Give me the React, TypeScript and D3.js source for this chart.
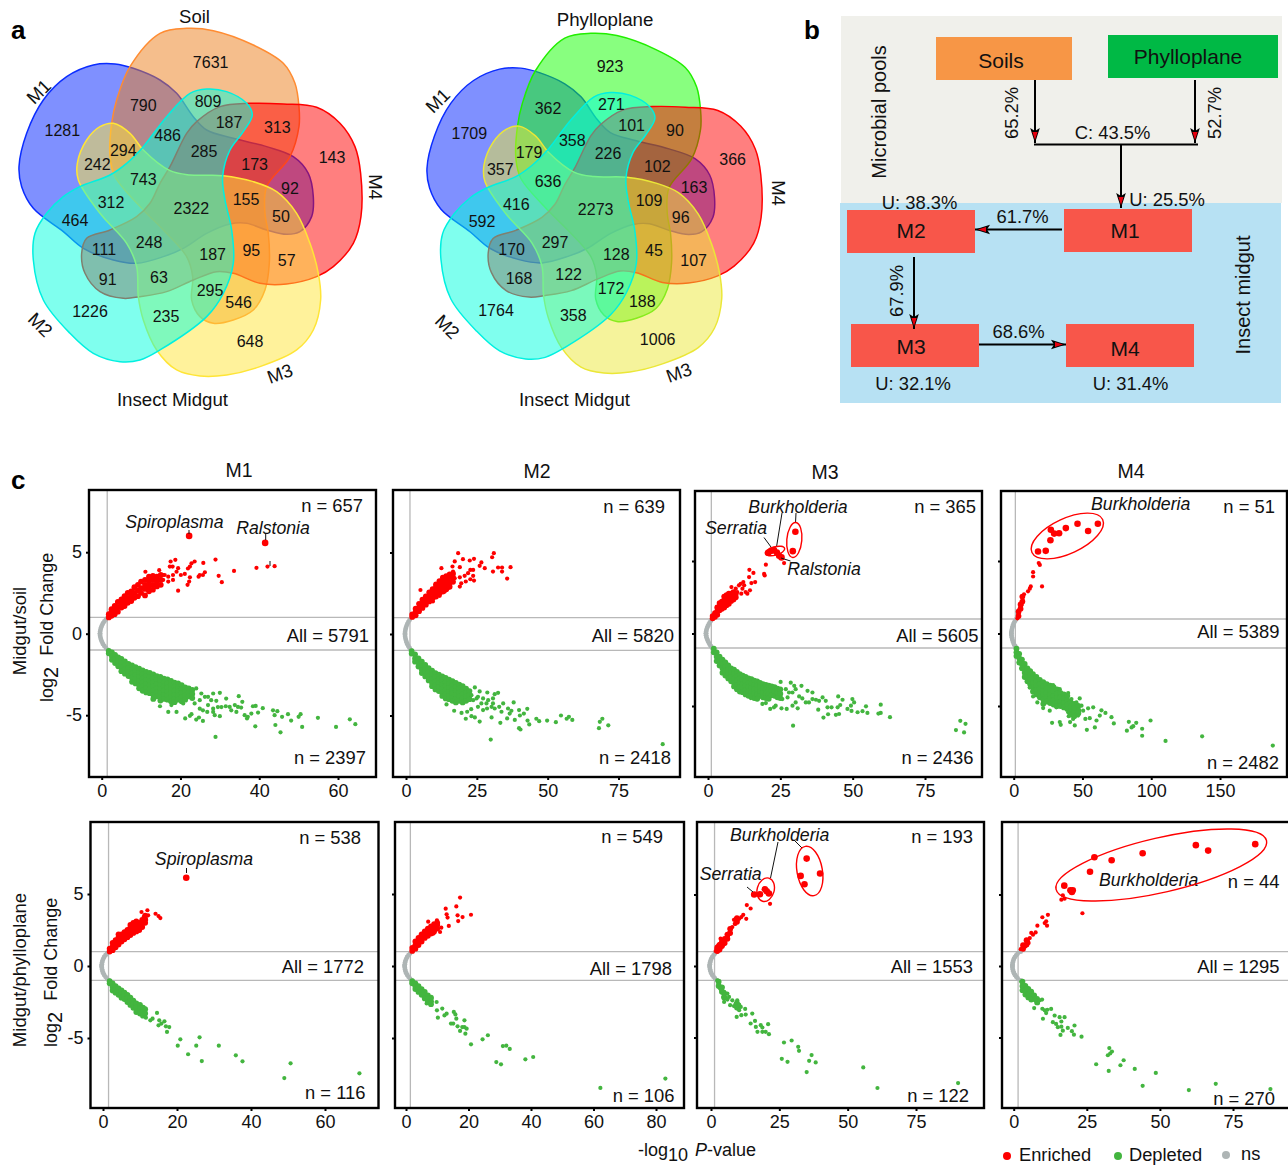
import React, { useEffect, useRef } from 'react';
import * as d3 from 'd3';

const FONT = '"Liberation Sans", Arial, sans-serif';

// venn region counts, same region order in both diagrams
const soilCounts = [7631, 1281, 790, 809, 187, 313, 143, 486, 294, 242, 285, 173, 92, 743, 312, 2322, 155, 50, 464, 111, 248, 187, 95, 57, 91, 63, 295, 546, 1226, 235, 648];
const phylloCounts = [923, 1709, 362, 271, 101, 90, 366, 358, 179, 357, 226, 102, 163, 636, 416, 2273, 109, 96, 592, 170, 297, 128, 45, 107, 168, 122, 172, 188, 1764, 358, 1006];

// volcano rows: [-log10 P, log2 FC, log2 FC ...], rows with several values sit in the dense cloud
const m1SoilUp = [[1.8,1,1.2],[2.5,1.1,1.35,1.5],[3.3,1.2,1.45,1.7],[4.1,1.35,1.65,1.95],[5,1.6,1.85,2.1],[5.8,1.7,2,2.3],[6.6,1.9,2.2,2.5],[7.5,2,2.3,2.6],[8.3,2.2,2.5,2.85],[9.2,2.3,2.65,3],[10,2.5,2.8,3.2],[11,2.35,2.75,3,3.3],[12,2.6,2.9,3.2,3.5],[13,2.7,3,3.3,3.55],[14,2.9,3.2,3.5],[15,3,3.3,3.6],
  [43.9,4.14],[42.1,4.12],[39.3,4.04],[33.6,3.85],[28.9,4.55],[25.8,4.34],[23.6,4.43],[22.8,4.32],[22.4,4.12],[21.9,4],[26.2,3.77],[25.7,3.6],[24.6,3.5],[24.9,3.6],[29.7,3.55],[30.5,3.16],[22.4,3.46],[22.2,3.2],[21.8,3],[19.4,2.64],[21.1,3.67],[20.1,3.6],[18.7,4.53],[17.5,4.43],[17.3,4.12],[18,4.12],[19.4,4.02],[19,3.8],[18.1,3.6],[16.9,3.5],[16,3.6],[15.6,3.6],[14.6,3.9],[11.1,3.8],[16.9,3.2],[18.1,3.3],[15.6,3.3]];
const m1SoilDown = [[1.8,-1.05,-1.2],[2.6,-1.15,-1.4,-1.6],[3.4,-1.3,-1.55,-1.8],[4.2,-1.45,-1.7,-2],[5,-1.55,-1.8,-2.05,-2.3],[5.9,-1.7,-1.95,-2.2,-2.45],[6.8,-1.85,-2.1,-2.35,-2.6],[7.7,-1.95,-2.2,-2.45,-2.7,-2.95],[8.6,-2.05,-2.3,-2.55,-2.8,-3.05],[9.5,-2.15,-2.4,-2.65,-2.9,-3.15,-3.35],[10.4,-2.25,-2.5,-2.75,-3,-3.25,-3.5],[11.3,-2.35,-2.6,-2.85,-3.1,-3.35,-3.6],[12.2,-2.4,-2.65,-2.9,-3.15,-3.4,-3.65],[13.1,-2.5,-2.75,-3,-3.25,-3.5,-3.75,-4],[14,-2.6,-2.85,-3.1,-3.35,-3.6,-3.85],[14.9,-2.65,-2.9,-3.15,-3.4,-3.65,-3.9,-4.1],[15.8,-2.75,-3,-3.25,-3.5,-3.75,-4],[16.7,-2.8,-3.05,-3.3,-3.55,-3.8,-4.05],[17.6,-2.9,-3.15,-3.4,-3.65,-3.9,-4.15],[18.5,-3,-3.25,-3.5,-3.75,-4,-4.2],[19.4,-3.05,-3.3,-3.55,-3.8,-4.05],[20.3,-3.15,-3.4,-3.65,-3.9,-4.15],[21.2,-3.3,-3.55,-3.8,-4.05],[22.1,-3.35,-3.6,-3.85],[23,-3.45,-3.7,-3.95],
  [28.9,-6.33],[64.4,-5.55],[63,-5.25],[59.5,-5.72],[54.9,-5.16],[50.9,-5.72],[50.5,-4.94],[50,-5.1],[48.1,-5.33],[47.3,-4.94],[45.8,-5.1],[45.4,-6.05],[44.1,-5.6],[44.6,-4.75],[43.5,-4.7],[43.9,-5],[40.9,-4.57],[39.1,-4.43],[38.4,-4.45],[39,-5.68],[39.7,-4.84],[38,-4.9],[37.1,-5.1],[36.3,-5],[36.9,-5.2],[35.7,-4.18],[34.8,-3.83],[33.8,-4.38],[34.6,-4.49],[35.4,-4.53],[34.2,-4.8],[32.5,-4.49],[32.9,-4.7],[31.6,-3.98],[31.5,-4.45],[30.4,-4.5],[30,-5.06],[28.7,-5],[28.3,-4.8],[27,-4.38],[27.8,-4.08],[28.3,-3.67],[30,-3.63],[29.1,-4.12],[25.7,-5.35],[24.7,-5.14],[24,-5.27],[22.8,-4.94],[22.4,-5.04],[21.2,-5.2],[19,-4.8],[16.9,-4.8],[14.8,-4.45],[17.7,-4.38],[20.7,-4.28],[24,-3.36],[25.3,-3.67],[24.9,-4.08],[26.2,-3.87],[27,-3.87],[23.6,-4.28],[24.9,-4.6],[25.7,-4.7],[26.8,-4.8],[28.3,-4.6],[29.5,-4.5]];
const m1SoilNs = [-0.43,-0.4,-0.3,-0.15,0.05,0.3,0.66,1.07,1.52];
const m1SoilBig = [[22.2,6],[41.5,5.57]];

const m2SoilUp = [[2.2,1.05,1.2],[3.4,1.15,1.35,1.55],[4.6,1.4,1.6,1.85],[5.8,1.6,1.85,2.1],[7,1.8,2.05,2.3],[8.2,2,2.25,2.55],[9.4,2.2,2.5,2.75],[10.6,2.3,2.6,2.9,3.05],[11.8,2.5,2.8,3.05,3.25],[13,2.6,2.9,3.2,3.45],[14.2,2.75,3,3.3,3.55],[15.4,2.9,3.2,3.5,3.65],[16.6,3.2,3.45,3.7],
  [18.4,4.96],[17.2,4.45],[20.1,4.59],[22.5,4.51],[24,4.61],[26.6,4.39],[26,4.18],[27.8,4.04],[31,4.96],[30.4,4.71],[32.5,4.08],[33.9,4.08],[36.9,4.1],[33.9,3.83],[30.7,3.83],[35.7,3.4],[23.7,3.93],[22.7,3.93],[21.9,3.73],[23.7,3.57],[22.7,3.36],[24,3.28],[20.7,3.57],[21.1,3.22],[19,3.48],[19.5,3.11],[19,2.91],[16.4,4.14],[16.6,3.83],[19,4.1],[12.5,4.04],[5.1,2.7],[9.5,2],[11.9,2.34],[13.7,2.6],[14.8,2.8],[17.2,3.42],[15.7,3.11]];
const m2SoilDown = [[2,-1.05,-1.2],[3.2,-1.25,-1.5,-1.7],[4.4,-1.5,-1.75,-2],[5.6,-1.7,-1.95,-2.2,-2.4],[6.8,-1.9,-2.15,-2.4,-2.6],[8,-2.1,-2.35,-2.6,-2.85],[9.2,-2.25,-2.5,-2.75,-3,-3.2],[10.4,-2.4,-2.65,-2.9,-3.15,-3.4],[11.6,-2.5,-2.75,-3,-3.25,-3.5],[12.8,-2.6,-2.85,-3.1,-3.35,-3.6,-3.8],[14,-2.7,-2.95,-3.2,-3.45,-3.7,-3.95],[15.2,-2.8,-3.05,-3.3,-3.55,-3.8,-4],[16.4,-2.9,-3.15,-3.4,-3.65,-3.9,-4.1],[17.6,-3,-3.25,-3.5,-3.75,-4,-4.2],[18.8,-3.1,-3.35,-3.6,-3.85,-4.1],[20,-3.2,-3.45,-3.7,-3.95,-4.2],[21.2,-3.35,-3.6,-3.85,-4.1],[22.4,-3.5,-3.75,-4],
  [29.9,-6.48],[90.6,-6.76],[71.4,-5.6],[69.3,-5.2],[68.4,-5.39],[68.1,-5.78],[58.7,-5.27],[57.5,-5.08],[56.7,-5.2],[54.7,-5],[52.9,-5.41],[49.8,-5.31],[47,-5.35],[46,-5.2],[43.5,-5.55],[42.9,-5.31],[42.8,-4.59],[41.6,-4.88],[40.2,-5],[39.9,-5.78],[40.4,-5.86],[38.4,-5.27],[39.9,-4.67],[38,-4.2],[37.2,-4.71],[36,-4.57],[36.6,-4.88],[35.7,-5.18],[33.3,-5.45],[34.3,-4.26],[32.9,-4.47],[33.7,-4.77],[31.3,-4.57],[30.2,-5.12],[30.2,-4.47],[26,-5.37],[24.3,-5.12],[23.1,-5.04],[21.1,-5.2],[19.6,-4.84],[17,-4.71],[23,-4.61],[21.6,-4.77],[14.3,-4.32],[25.4,-4.47],[27.2,-4.67],[28.6,-4.57],[30.7,-4.26],[32.5,-3.61],[31.3,-3.69],[28.7,-3.59],[26,-3.52],[24.3,-3.28],[30.7,-3.95],[29,-4.06],[27.2,-3.95],[24.9,-3.95],[23.7,-4.06],[26.6,-4.26],[28.4,-4.26],[23.1,-3.75],[25.4,-3.85]];
const m2SoilNs = [-0.35,-0.32,-0.21,-0.04,0.21,0.49,0.85,1.31,1.87];

const m3SoilUp = [[1.6,1.05,1.2],[2.4,1.15,1.4],[3.2,1.3,1.55,1.8],[4,1.6,1.85,2.1],[4.8,1.7,1.95,2.2],[5.6,1.8,2.05,2.3,2.55],[6.4,1.95,2.2,2.45,2.65],[7.2,2.05,2.3,2.55,2.75],[8,2.25,2.5,2.75],[8.8,2.35,2.6,2.85],[9.6,2.5,2.75],
  [26.3,4.86],[20,4.75],[19.4,4.11],[19.6,4],[14.3,4.39],[15.7,4.18],[14.2,3.89],[15,3.48],[16.3,3.55],[12.2,3.55],[11.3,3.43],[10.7,3.32],[12.5,3.32],[8.1,3.2],[9.6,3.09],[11.9,3.09],[13,2.86],[14.5,2.98],[13.6,2.75],[10.1,2.86],[11.5,2.75]];
const m3SoilDown = [[2,-1.05,-1.3],[3,-1.3,-1.6,-1.9],[4,-1.6,-1.9,-2.2],[5,-1.8,-2.1,-2.4,-2.7],[6,-2,-2.3,-2.6,-2.9],[7,-2.2,-2.5,-2.8,-3.1],[8,-2.4,-2.7,-3,-3.3],[9,-2.5,-2.8,-3.1,-3.4,-3.65],[10,-2.65,-2.95,-3.25,-3.55,-3.85],[11,-2.8,-3.1,-3.4,-3.7,-4],[12,-2.9,-3.2,-3.5,-3.8,-4.05],[13,-3,-3.3,-3.6,-3.9,-4.2],[14,-3.1,-3.4,-3.7,-4,-4.3],[15,-3.15,-3.45,-3.75,-4.05,-4.35],[16,-3.25,-3.55,-3.85,-4.15,-4.45],[17,-3.3,-3.6,-3.9,-4.2,-4.5],[18,-3.4,-3.7,-4,-4.3],[19,-3.5,-3.8,-4.1,-4.4],[20,-3.55,-3.85,-4.15,-4.45],[21,-3.6,-3.9,-4.2,-4.5],[22,-3.65,-3.95,-4.25],[23,-3.7,-4,-4.3],[24,-3.8,-4.1,-4.4],[25,-3.85,-4.15,-4.45],
  [29.4,-6.36],[87.2,-6.02],[89,-6.23],[85.7,-6.66],[88.5,-6.82],[62.9,-5.77],[59.7,-5.48],[59.7,-4.91],[58.9,-5.52],[55.1,-5.48],[54.6,-5.02],[53.4,-5.36],[51.7,-5.43],[49.6,-5.34],[50.5,-4.75],[49.9,-4.52],[49.4,-4.98],[48.2,-5.2],[46.5,-4.57],[45,-4.34],[45.7,-4.93],[44.8,-5.09],[45.3,-5.55],[44.2,-5.61],[42.7,-5.09],[41.5,-5.57],[39.9,-5.8],[41.3,-5.09],[40.7,-4.64],[39.6,-4.41],[38.4,-4.64],[37.3,-4.57],[38.1,-5.25],[36.1,-4.52],[34.4,-3.95],[36.1,-4.07],[34.9,-4.75],[33.8,-4.75],[32.6,-4.48],[31.5,-4.34],[32.3,-3.61],[29.8,-3.61],[28.6,-3.39],[25.1,-3.34],[30.3,-3.84],[29.2,-4.07],[27.5,-4.41],[30.3,-4.75],[29.2,-4.98],[31,-5.16],[27.2,-5.2],[25.4,-5.16],[23.4,-4.98],[21.5,-5.2],[22.8,-5.09],[20,-4.8],[17.1,-4.48],[14.8,-4.45],[18.8,-4.86],[24,-4.41],[25.7,-4.52],[26.9,-3.84],[28,-4.07]];
const m3SoilNs = [-0.69,-0.66,-0.52,-0.31,-0.07,0.24,0.59,1,1.49];
const m3SoilBig = [[30.2,7.02],[29.3,5.68],[20.8,5.57],[21.9,5.7],[22.8,5.75],[23.8,5.59],[24.6,5.36],[25.4,5.25]];

const m4SoilUp = [[3.5,1.2,1.5],[5,1.7,2],[6.3,2.2,2.55],[18.2,4.86],[19,4.73],[14.1,4.23],[14.1,3.93],[20.6,3.25],[12.4,3.25],[11.7,3.09],[10.4,2.91],[7.5,2.7],[6.3,2.52],[6.8,2.25],[5.6,1.95],[4.4,1.73],[5.1,1.84],[3.6,1.43],[3.2,1.2],[2.7,1.05],[3.9,1.57],[6.1,2.11]];
const m4SoilDown = [[2,-1.05,-1.3,-1.55],[4,-1.4,-1.7,-2],[6,-1.8,-2.1,-2.4],[8,-2.1,-2.4,-2.7,-3],[10,-2.4,-2.7,-3,-3.3],[12,-2.6,-2.9,-3.2,-3.5],[14,-2.8,-3.1,-3.4,-3.7,-4],[16.5,-3,-3.3,-3.6,-3.9,-4.2],[19,-3.2,-3.5,-3.8,-4.1,-4.4],[21.5,-3.35,-3.65,-3.95,-4.25,-4.55,-4.85],[24,-3.5,-3.8,-4.1,-4.4,-4.7],[26.5,-3.6,-3.9,-4.2,-4.5,-4.8],[29,-3.7,-4,-4.3,-4.6,-4.9],[31.5,-3.85,-4.15,-4.45,-4.75,-5],[34,-4.1,-4.4,-4.7,-5],[36.5,-4.2,-4.5,-4.8,-5.1],[39,-4.3,-4.6,-4.9,-5.2],[41.5,-4.75,-5.05,-5.35,-5.6],[44,-4.85,-5.15,-5.45,-5.7],[47,-5,-5.3,-5.5],
  [188.4,-7.73],[137,-7.09],[110.4,-7.41],[93.4,-7.05],[93.4,-6.57],[99.5,-6],[89.1,-6.16],[86.9,-6.39],[85.7,-6.48],[83.7,-6.09],[82.3,-6.7],[72.8,-6.2],[71.1,-5.77],[63.8,-5.3],[66.7,-5.48],[62.6,-5.66],[59,-6.48],[53.2,-6.64],[44.4,-6.34],[41,-6.11],[34.2,-6.3],[33.5,-6.11],[27.9,-6.16],[60.2,-6],[55.3,-5.84],[52.1,-5.89],[57.8,-5.09],[54.1,-5.16],[49.3,-4.98],[48,-4.48],[50.5,-5.32],[46.8,-5.66],[40,-5.7],[43.2,-5.89],[39.6,-5.43],[44.4,-5.2],[45.6,-4.75],[42,-4.52],[39.6,-4.11],[33.5,-3.84],[28.6,-3.55],[35.9,-4.75],[31,-5.09],[26.2,-5.32],[21.4,-5.14],[17.2,-4.75],[14.1,-4.34],[11.6,-3.73]];
const m4SoilNs = [-1.67,-1.6,-1.38,-1.09,-0.73,-0.29,0.29,1.09,1.97];
const m4SoilBig = [[17.7,5.66],[23.3,5.7],[26.7,6.43],[27,7.16],[29.4,6.89],[33,6.91],[37.9,7.27],[46.4,7.57],[54.1,7.07],[61.2,7.57]];

const m1PhylloUp = [[1.8,1,1.2],[2.6,1.1,1.35,1.6],[3.4,1.3,1.55,1.8],[4.2,1.5,1.75,2,2.2],[5,1.7,1.95,2.2],[5.8,1.85,2.1,2.35],[6.6,2,2.25,2.5],[7.4,2.15,2.4,2.65,2.85],[8.2,2.3,2.55,2.8,3],[9,2.4,2.65,2.9,3.1],[9.8,2.5,2.75,3],[10.6,2.7,2.95,3.2],[11.4,3,3.25,3.5],
  [15.5,3.33],[15,3.47],[14.2,3.63],[12,3.87],[10.4,3.75],[12.2,3.52],[11,3.4],[11.6,3.17],[10.4,2.94],[10.6,2.7]];
const m1PhylloDown = [[1.8,-1.05,-1.2],[2.6,-1.2,-1.45,-1.7],[3.4,-1.4,-1.65,-1.85],[4.2,-1.55,-1.8,-2],[5,-1.7,-1.95,-2.2],[5.8,-1.85,-2.1,-2.3],[6.6,-2,-2.25,-2.5],[7.4,-2.2,-2.45,-2.7],[8.2,-2.4,-2.65,-2.9],[9,-2.6,-2.9,-3.2],[10,-2.7,-3,-3.3],[10.8,-2.9,-3.2,-3.45],[11.4,-3,-3.3],
  [69.3,-7.45],[50.7,-6.76],[49,-7.78],[37.7,-6.62],[35.9,-6.2],[31.3,-5.53],[26.7,-6.6],[26.1,-4.95],[25.2,-5.53],[23,-6.13],[20.9,-5.09],[20.2,-5.53],[17.3,-4.58],[17.9,-4.24],[16.6,-3.84],[17,-4.19],[15.8,-4],[15,-4.12],[14.6,-3.26],[15.2,-3.77],[13.4,-3.66],[12.8,-3.77],[11.6,-3.59]];
const m1PhylloNs = [-0.35,-0.32,-0.24,-0.11,0.08,0.32,0.68,1.08,1.57];
const m1PhylloBig = [[22.5,6.13]];

const m2PhylloUp = [[2,1.05,1.25],[3,1.2,1.45,1.7],[4,1.45,1.7,1.95],[5,1.7,1.95,2.2],[6,1.95,2.2,2.4],[7,2.1,2.35,2.6],[8,2.25,2.5,2.75],[9,2.4,2.65,2.9],[10,2.6,2.85,3],
  [17.3,4.75],[16.1,4.14],[12.7,3.98],[13,3.59],[13.3,3.36],[16.5,3.52],[18.1,3.4],[20.8,3.56],[16.7,3.12],[13.7,2.78],[7.1,3.08],[9.9,3.17],[11.3,2.66],[9.5,2.82],[10.9,2.36],[8.8,2.25]];
const m2PhylloDown = [[2,-1.05,-1.2],[3,-1.2,-1.4,-1.6],[4,-1.4,-1.6,-1.8],[5,-1.6,-1.8,-2],[6,-1.8,-2,-2.25],[7,-2.05,-2.3,-2.5],[8,-2.2,-2.45,-2.65],
  [83,-7.82],[62.2,-8.47],[40.7,-6.32],[38.2,-6.48],[30.4,-6.83],[28.9,-6.67],[33.2,-5.76],[32.1,-5.53],[31,-5.56],[26.2,-4.81],[24.5,-5.09],[20.8,-5.44],[19,-4.7],[18.7,-3.77],[18.7,-4.24],[19.4,-4.35],[17.3,-4.51],[18,-4.24],[16.1,-3.66],[15.3,-3.19],[15.1,-4],[16.5,-4.19],[14.4,-4],[15.8,-3.36],[13,-3.31],[11.6,-2.96],[10.2,-3.59],[9.9,-3.08],[12.3,-3.43],[9.8,-2.5],[8.1,-2.27],[6.6,-2.6]];
const m2PhylloNs = [-0.42,-0.38,-0.29,-0.13,0.1,0.38,0.8,1.28,1.85];

const m3PhylloUp = [[2.3,1.05,1.3],[3.2,1.2,1.5],[4,1.4,1.7],[5,1.6,1.9],[6,1.9,2.2],[7,2.3,2.6],[9.5,3.1,3.35],[21.6,4.35],[13.1,4.26],[14.5,4.02],[12.9,3.3],[11.8,3.58],[11.1,3.42],[10.3,3.3],[9,3.3],[8.4,3.23],[9.6,3.07],[8.7,2.95],[7.8,2.72],[7,2.49],[6.3,2.14],[5.4,1.91],[4.2,1.67],[3.5,1.91],[2.9,1.44],[2.3,1.21],[1.7,1.05],[4.8,1.56],[6,1.98],[7.2,2.6],[3.3,1.09],[3.8,1.37],[2.6,1.44],[9,2.95],[5,1.75],[3.2,1.25],[4.4,1.45],[6.6,2.3],[2,1.2]];
const m3PhylloDown = [[2.8,-1.1,-1.4],[4,-1.5,-1.8],[4.8,-1.9,-2.2],[9.5,-2.6,-2.9],[2.3,-1],[2.9,-1.28],[4.2,-1.47],[4.8,-1.81],[4.5,-2.16],[4.8,-2.51],[6,-1.93],[6.6,-2.16],[7,-2.74],[7.8,-2.4],[9,-2.63],[9.6,-2.4],[9.6,-2.98],[10.3,-3.09],[9.4,-3.56],[10.9,-2.86],[11.1,-3.44],[12.7,-3.4],[12.5,-3],[15.1,-3.33],[14.5,-4.02],[16.1,-3.84],[16.4,-4.26],[17,-4.6],[18.2,-4.14],[18.8,-4.3],[18.8,-4.6],[20,-4.6],[21.2,-4.77],[20.9,-4.07],[26.7,-5.35],[29.5,-5.21],[31.9,-5.65],[32.2,-5.93],[25.9,-6.49],[28,-6.7],[36.8,-6.23],[35.9,-6.63],[38.3,-6.74],[35,-7.42],[55.7,-7.09],[60.9,-8.53],[90.4,-8.19],[3.3,-1.58],[3.8,-1.7],[5,-2],[5.3,-2.2],[6,-2.35],[8.4,-2.8],[9.4,-2.85],[10.3,-2.7]];
const m3PhylloNs = [-0.48,-0.44,-0.33,-0.15,0.11,0.44,0.92,1.47,2.2];
const m3PhylloBig = [[35,7.51],[39.9,6.47],[32.8,6.3],[34.2,5.72],[15.8,5],[17.9,5.02],[19.7,5.37],[20.4,5.23],[21.2,5.07]];

const m4PhylloUp = [[3.2,1.2,1.45],[4.4,1.5,1.8],[23.5,3.69],[16.8,4.94],[16.3,4.64],[17.4,4.71],[11.7,3.58],[9.8,3.41],[11.1,3.13],[10.6,3],[11.4,2.82],[8.1,2.82],[7.5,2.35],[6,2.31],[6.6,2.19],[5.5,1.95],[4.9,1.72],[4.3,1.55],[3.75,1.41],[3.2,1.36],[2.4,1.18],[5.1,1.6],[4,1.36]];
const m4PhylloDown = [[3,-1.1,-1.4,-1.7],[4,-1.4,-1.7,-2],[5,-1.6,-1.9,-2.2],[6,-1.8,-2.1,-2.35],[7,-2.05,-2.3],[8,-2.3,-2.55],[2.6,-1.1],[2.8,-1.46],[3.75,-1.69],[4.3,-1.58],[3.5,-1.34],[4.9,-1.93],[5.5,-1.81],[5.8,-2.28],[6.6,-2.05],[7.4,-2.4],[8.3,-2.59],[7,-2.94],[8.9,-2.4],[9.7,-2.35],[9.8,-2.99],[10.6,-3.1],[11.1,-3.29],[10,-3.69],[12.8,-3],[11.5,-3.06],[14,-3.46],[13.4,-3.93],[15.7,-3.58],[17.4,-3.58],[16.3,-3.88],[14.5,-4.05],[15.1,-4.28],[16.3,-4.24],[16,-4.82],[16.8,-4.52],[18.5,-4.33],[20.8,-4.16],[19.9,-4.56],[20.6,-4.8],[23.2,-4.94],[32.7,-5.74],[33.6,-5.98],[33,-6.12],[32.2,-6.24],[28.2,-6.87],[32.5,-7.34],[36.5,-6.94],[37.6,-6.59],[41.4,-7.2],[48.6,-7.48],[44.1,-8.38],[59.9,-8.68],[69.1,-8.24],[87.8,-8.61]];
const m4PhylloNs = [-0.44,-0.41,-0.31,-0.14,0.1,0.41,0.85,1.37,2.39];
const m4PhylloBig = [[82.6,8.52],[66.5,8.07],[62.3,8.45],[44.1,7.88],[33.5,7.39],[27.6,7.6],[26.1,6.59],[17.3,5.62],[19.4,5.29],[19.9,5.18],[20.2,5.3]];

const nsFold = [0, 0.125, 0.25, 0.375, 0.5, 0.625, 0.75, 0.875, 1];

// layout: petals in 3x units
const petalBlue = [[345,192],[400,205],[480,240],[530,280],[580,350],[620,390],[700,415],[800,440],[880,470],[925,520],[940,590],[935,650],[900,695],[860,703],[800,690],[740,670],[690,672],[620,700],[550,745],[490,770],[410,790],[340,780],[250,745],[190,695],[100,625],[65,560],[57,500],[80,400],[130,300],[200,230],[280,195]];
const petalSource = [[390,200],[480,100],[560,85],[640,92],[760,135],[850,190],[885,250],[897,320],[897,380],[870,470],[800,560],[795,640],[805,700],[808,790],[795,870],[760,930],[700,960],[640,970],[600,950],[575,900],[578,830],[560,770],[490,690],[430,630],[345,530],[330,470],[335,370],[350,300]];
const petalRed = [[750,310],[850,312],[950,322],[1020,370],[1065,440],[1082,520],[1083,650],[1060,730],[1000,800],[950,830],[860,852],[780,850],[700,820],[650,815],[580,840],[500,875],[420,890],[370,895],[300,875],[255,820],[245,760],[260,715],[330,690],[410,650],[450,610],[480,550],[510,500],[560,400],[590,365],[660,320]];
const petalYellow = [[340,370],[390,400],[430,450],[510,512],[570,525],[670,527],[760,545],[830,575],[890,640],[930,730],[955,820],[962,900],[940,990],[890,1050],[780,1100],[680,1125],[600,1128],[530,1110],[470,1050],[430,960],[415,890],[410,800],[380,730],[300,640],[235,540],[232,490],[260,420],[300,380]];
const petalCyan = [[240,560],[330,525],[380,490],[430,440],[500,350],[570,280],[620,267],[680,275],[740,310],[757,345],[730,395],[690,450],[668,530],[675,600],[695,690],[700,790],[670,880],[620,950],[480,1050],[420,1080],[360,1085],[280,1060],[210,1000],[130,900],[100,780],[105,700],[140,640],[190,590]];

const soilAnchors = [[632,187],[187,392],[430,316],[624,305],[687,368],[832,383],[996,473],[503,406],[370,452],[292,493],[612,455],[764,493],[870,565],[430,538],[333,607],[574,626],[738,598],[843,650],[225,661],[312,748],[447,727],[638,763],[754,752],[860,781],[323,838],[477,832],[630,872],[716,907],[270,935],[498,949],[750,1024]];
const phylloAnchors = [[600,200],[178,400],[414,325],[604,313],[665,377],[795,390],[968,478],[487,421],[357,458],[271,508],[594,460],[742,499],[852,562],[414,544],[319,613],[557,628],[717,601],[812,652],[216,664],[305,748],[435,727],[619,763],[732,751],[851,781],[327,835],[476,823],[603,865],[697,904],[258,932],[490,946],[743,1018]];

const petalPath = d3.line().curve(d3.curveCatmullRomClosed.alpha(0.5));

const rowsToPoints = (rows: number[][]) => rows.flatMap(([x, ...ys]) => ys.map((y) => [x, y, ys.length > 1 ? 1 : 0]));

type Ann = { t: string; x: number; y: number };
const panels = [
  { box: [89, 490, 287, 287], xt: [0, 20, 40, 60], xr: [101.7, 338], y0: 633.7, yu: 16.3, vx: 1.4, up: m1SoilUp, down: m1SoilDown, ns: m1SoilNs, big: m1SoilBig, left: true,
    labels: [['n = 657', 363, 512], ['All = 5791', 369, 642], ['n = 2397', 366, 764]],
    italic: [{ t: 'Spiroplasma', x: 174.5, y: 528 }, { t: 'Ralstonia', x: 273, y: 534 }] as Ann[],
    ticks: [[189, 530, 189, 534], [265.7, 533, 265.7, 540], [270, 561, 270, 566]] },
  { box: [393, 490, 287, 287], xt: [0, 25, 50, 75], xr: [406, 618.5], y0: 634, yu: 16.3, vx: 1.4, up: m2SoilUp, down: m2SoilDown, ns: m2SoilNs, big: [], left: false,
    labels: [['n = 639', 665, 512.5], ['All = 5820', 674, 642], ['n = 2418', 671, 764]], italic: [] as Ann[], ticks: [] },
  { box: [695, 491, 287, 286], xt: [0, 25, 50, 75], xr: [708, 925], y0: 633.5, yu: 14.5, vx: 1.15, up: m3SoilUp, down: m3SoilDown, ns: m3SoilNs, big: m3SoilBig, left: false,
    labels: [['n = 365', 976, 512.5], ['All = 5605', 978.5, 642], ['n = 2436', 973.5, 764]],
    italic: [{ t: 'Burkholderia', x: 798, y: 513 }, { t: 'Serratia', x: 736, y: 534 }, { t: 'Ralstonia', x: 824, y: 575 }] as Ann[],
    ticks: [[782, 513, 776.5, 547], [796, 513, 795.5, 523], [764, 537.5, 771, 547], [781, 558, 790.5, 561]] },
  { box: [1001, 491, 286, 286], xt: [0, 50, 100, 150], xr: [1013.7, 1220], y0: 633.5, yu: 14.5, vx: 1.2, up: m4SoilUp, down: m4SoilDown, ns: m4SoilNs, big: m4SoilBig, left: false,
    labels: [['n = 51', 1275, 513], ['All = 5389', 1279.5, 638], ['n = 2482', 1279, 769]],
    italic: [{ t: 'Burkholderia', x: 1140.7, y: 510 }] as Ann[], ticks: [] },
  { box: [90.5, 822, 288, 286], xt: [0, 20, 40, 60], xr: [103, 325], y0: 966, yu: 14.4, vx: 1.5, up: m1PhylloUp, down: m1PhylloDown, ns: m1PhylloNs, big: m1PhylloBig, left: true,
    labels: [['n = 538', 361, 844], ['All = 1772', 364, 973], ['n = 116', 365.5, 1099]],
    italic: [{ t: 'Spiroplasma', x: 204, y: 865 }] as Ann[], ticks: [[186.5, 868, 186.5, 873]] },
  { box: [395, 822, 289, 286], xt: [0, 20, 40, 60, 80], xr: [406, 656], y0: 966, yu: 14.4, vx: 1.4, up: m2PhylloUp, down: m2PhylloDown, ns: m2PhylloNs, big: [], left: false,
    labels: [['n = 549', 663, 843], ['All = 1798', 672, 975], ['n = 106', 674.5, 1102]], italic: [] as Ann[], ticks: [] },
  { box: [697, 822, 287, 286], xt: [0, 25, 50, 75], xr: [711, 916], y0: 966, yu: 14.3, vx: 1.3, up: m3PhylloUp, down: m3PhylloDown, ns: m3PhylloNs, big: m3PhylloBig, left: false,
    labels: [['n = 193', 973, 843], ['All = 1553', 973, 972.5], ['n = 122', 969, 1101.5]],
    italic: [{ t: 'Burkholderia', x: 779.7, y: 840.5 }, { t: 'Serratia', x: 730.7, y: 880 }] as Ann[],
    ticks: [[778, 842, 770.5, 878], [794, 840, 802, 848], [747, 887, 753, 892]] },
  { box: [1002, 822, 292, 286], xt: [0, 25, 50, 75], xr: [1013.7, 1233], y0: 966, yu: 14.3, vx: 1.5, up: m4PhylloUp, down: m4PhylloDown, ns: m4PhylloNs, big: m4PhylloBig, left: false,
    labels: [['n = 44', 1279.5, 887.5], ['All = 1295', 1279.5, 972.5], ['n = 270', 1275, 1105]],
    italic: [{ t: 'Burkholderia', x: 1148.7, y: 885.5 }] as Ann[], ticks: [] },
];

// red rings round the highlighted genera: cx, cy, rx, ry, rotation
const rings = [
  [794.3, 540, 7.5, 17.5, 5], [775, 551, 10, 4.2, -15],
  [1067.3, 536, 39, 17.5, -25],
  [809.7, 871, 12.7, 25, -10], [765.7, 889.7, 8.5, 12, 15],
  [1161.3, 865, 108, 27.3, -13],
];

const cRed = '#fe0000';
const cGreen = '#43b53f';
const cGrey = '#aeb5b5';
const T = { fontFamily: FONT, fill: '#111' };

function Axes({ p }: { p: (typeof panels)[number] }) {
  const xRef = useRef<SVGGElement>(null);
  const yRef = useRef<SVGGElement>(null);
  useEffect(() => {
    const last = p.xt[p.xt.length - 1];
    const x = d3.scaleLinear().domain([0, last]).range(p.xr);
    const y = d3.scaleLinear().domain([0, 5]).range([p.y0, p.y0 - 5 * p.yu]);
    const xa = d3.select(xRef.current!).call(d3.axisBottom(x).tickValues(p.xt).tickSize(3).tickPadding(4));
    const ya = d3.select(yRef.current!).call(
      d3.axisLeft(y).tickValues([-5, 0, 5]).tickSize(3).tickPadding(4).tickFormat((d) => (p.left ? String(d) : ''))
    );
    for (const a of [xa, ya]) {
      a.select('.domain').remove();
      a.attr('font-family', FONT).attr('font-size', 18);
      a.selectAll('.tick line').attr('stroke', '#000').attr('stroke-width', 2);
      a.selectAll('.tick text').attr('fill', '#111');
    }
  }, [p]);
  return (
    <g>
      <g ref={xRef} transform={`translate(0,${p.box[1] + p.box[3]})`} />
      <g ref={yRef} transform={`translate(${p.box[0]},0)`} />
    </g>
  );
}

function Volcano({ p }: { p: (typeof panels)[number] }) {
  const [bx, by, bw, bh] = p.box;
  const last = p.xt[p.xt.length - 1];
  const x = d3.scaleLinear().domain([0, last]).range(p.xr);
  const y = d3.scaleLinear().domain([0, 5]).range([p.y0, p.y0 - 5 * p.yu]);
  const nsPts = p.ns.flatMap((v, i) => [[v, nsFold[i]], [v, -nsFold[i]]]);
  return (
    <g>
      <line x1={x(p.vx)} x2={x(p.vx)} y1={by} y2={by + bh} stroke="#b8b8b8" strokeWidth={1.3} />
      {[1, -1].map((v) => (
        <line key={v} x1={bx} x2={bx + bw} y1={y(v)} y2={y(v)} stroke="#b8b8b8" strokeWidth={1.3} />
      ))}
      {nsPts.map((d, i) => <circle key={i} cx={x(d[0])} cy={y(d[1])} r={2.4} fill={cGrey} />)}
      {rowsToPoints(p.down).map((d, i) => <circle key={i} cx={x(d[0])} cy={y(d[1])} r={d[2] ? 2.9 : 2.1} fill={cGreen} />)}
      {rowsToPoints(p.up).map((d, i) => <circle key={i} cx={x(d[0])} cy={y(d[1])} r={d[2] ? 2.9 : 2.1} fill={cRed} />)}
      {p.big.map((d, i) => <circle key={i} cx={x(d[0])} cy={y(d[1])} r={3.3} fill={cRed} />)}
      {p.ticks.map((l, i) => <line key={i} x1={l[0]} y1={l[1]} x2={l[2]} y2={l[3]} stroke="#111" strokeWidth={1} />)}
      <rect x={bx} y={by} width={bw} height={bh} fill="none" stroke="#000" strokeWidth={2.4} />
      <Axes p={p} />
      {p.labels.map((l, i) => (
        <text key={i} x={l[1] as number} y={l[2] as number} textAnchor="end" fontSize={18.4} {...T}>{l[0]}</text>
      ))}
      {p.italic.map((a, i) => (
        <text key={i} x={a.x} y={a.y} textAnchor="middle" fontSize={17.7} fontStyle="italic" {...T}>{a.t}</text>
      ))}
    </g>
  );
}

function Venn({ transform, source, counts, anchors, ox, yellow }: any) {
  return (
    <g>
      <g transform={transform} strokeWidth={4.5}>
        <path d={petalPath(petalBlue)!} fill="#0021ff" fillOpacity={0.5} stroke="#0a2cff" />
        <path d={petalPath(petalSource)!} fill={source[0]} fillOpacity={0.5} stroke={source[1]} />
        <path d={petalPath(petalRed)!} fill="#ff0000" fillOpacity={0.5} stroke="#ff0000" />
        <path d={petalPath(petalYellow)!} fill={yellow} fillOpacity={0.5} stroke={yellow} />
        <path d={petalPath(petalCyan)!} fill="#00ffdd" fillOpacity={0.5} stroke="#00f0e0" />
      </g>
      {counts.map((c: number, i: number) => (
        <text key={i} x={ox + anchors[i][0] / 3} y={anchors[i][1] / 3 + 5.6} textAnchor="middle" fontSize={16} {...T}>{c}</text>
      ))}
    </g>
  );
}

function Arrow({ x1, y1, x2, y2 }: { x1: number; y1: number; x2: number; y2: number }) {
  const ang = (Math.atan2(y2 - y1, x2 - x1) * 180) / Math.PI;
  return (
    <g>
      <line x1={x1} y1={y1} x2={x2} y2={y2} stroke="#000" strokeWidth={2} />
      <g transform={`translate(${x2},${y2}) rotate(${ang})`}>
        <path d="M0,0L-15,-4.8L-12,0L-15,4.8Z" fill="#000" />
        <path d="M-3,0L-11,-2.6L-11,2.6Z" fill="#e8000f" />
      </g>
    </g>
  );
}

const flowBoxes = [
  ['Soils', 936, 37, 136, 43, '#f79646', 1001, 68, 21],
  ['Phylloplane', 1108, 35, 170, 43, '#00b945', 1188, 64, 21],
  ['M2', 847, 210, 128, 43, '#f8564a', 911, 238, 21],
  ['M1', 1064, 209, 128, 43, '#f8564a', 1125, 238, 21],
  ['M3', 851, 324, 128, 43, '#f8564a', 911, 354, 21],
  ['M4', 1066, 324, 128, 43, '#f8564a', 1125, 356, 21],
];

const flowText: [string, number, number][] = [
  ['C: 43.5%', 1112.5, 139],
  ['U: 38.3%', 919.5, 209],
  ['U: 25.5%', 1167, 206],
  ['61.7%', 1022.5, 222.5],
  ['68.6%', 1018.5, 337.5],
  ['U: 32.1%', 913, 390],
  ['U: 31.4%', 1130.5, 390],
];

const rotated: [string, number, number, number, number][] = [
  ['65.2%', 1018, 113, -90, 18.4],
  ['52.7%', 1221, 113, -90, 18.4],
  ['67.9%', 903, 291, -90, 18.4],
  ['Microbial pools', 886, 112, -90, 20],
  ['Insect midgut', 1250, 295, -90, 20],
];

function FoldLabel({ x, y, title, titleX, titleY }: any) {
  return (
    <g>
      <text transform={`translate(${titleX},${titleY}) rotate(-90)`} textAnchor="middle" fontSize={18.5} {...T}>{title}</text>
      <text transform={`translate(${x},${y}) rotate(-90)`} fontSize={18} {...T}>
        log<tspan dy={5} fontSize={20}>2</tspan><tspan dy={-5} dx={11}>Fold Change</tspan>
      </text>
    </g>
  );
}

export default function App() {
  const legend: [string, string, number, number, number, number][] = [
    ['Enriched', cRed, 1007, 1156, 1019, 1160.5],
    ['Depleted', cGreen, 1118, 1156, 1129, 1160.5],
    ['ns', cGrey, 1226, 1155, 1241, 1160],
  ];
  return (
    <svg width={1288} height={1165} style={{ position: 'absolute', left: 0, top: 0, background: '#fff' }}>
      {/* a */}
      <Venn transform="scale(0.3333)" source={['#eb7d19', '#ff8c32']} counts={soilCounts} anchors={soilAnchors} ox={0} yellow="#ffe537" />
      <Venn transform="translate(408.4,5.6) scale(0.3257)" source={['#11ff00', '#22ee00']} counts={phylloCounts} anchors={phylloAnchors} ox={410} yellow="#ebe737" />
      <text x={194.5} y={23} textAnchor="middle" fontSize={18.5} {...T}>Soil</text>
      <text x={605} y={26} textAnchor="middle" fontSize={18.7} {...T}>Phylloplane</text>
      <text x={172.5} y={406} textAnchor="middle" fontSize={18.7} {...T}>Insect Midgut</text>
      <text x={574.5} y={406} textAnchor="middle" fontSize={18.7} {...T}>Insect Midgut</text>
      {([['M1', 39, 92, -45], ['M4', 375, 187, 90], ['M2', 40, 325, 45], ['M3', 280, 374, -20], ['M1', 438, 101, -45], ['M4', 778, 193, 90], ['M2', 447, 327, 45], ['M3', 679, 373, -20]] as [string, number, number, number][]).map((m, i) => (
        <text key={i} transform={`translate(${m[1]},${m[2]}) rotate(${m[3]})`} textAnchor="middle" dy={6} fontSize={18.5} {...T}>{m[0]}</text>
      ))}
      {/* b */}
      <rect x={841} y={16} width={441} height={187} fill="#f0f0eb" />
      <rect x={840} y={203} width={441} height={200} fill="#b7e1f3" />
      {flowBoxes.map((b: any, i) => (
        <g key={i}>
          <rect x={b[1]} y={b[2]} width={b[3]} height={b[4]} fill={b[5]} />
          <text x={b[6]} y={b[7]} textAnchor="middle" fontSize={b[8]} {...T}>{b[0]}</text>
        </g>
      ))}
      <Arrow x1={1035} y1={80} x2={1035} y2={143} />
      <Arrow x1={1195} y1={80} x2={1195} y2={143} />
      <line x1={1034} y1={144.5} x2={1198} y2={144.5} stroke="#000" strokeWidth={2} />
      <Arrow x1={1121} y1={145} x2={1121} y2={208} />
      <Arrow x1={1062} y1={229.5} x2={975} y2={229.5} />
      <Arrow x1={914} y1={257} x2={914} y2={329} />
      <Arrow x1={979} y1={344.5} x2={1066} y2={344.5} />
      {flowText.map((t, i) => (
        <text key={i} x={t[1]} y={t[2]} textAnchor="middle" fontSize={18.4} {...T}>{t[0]}</text>
      ))}
      {rotated.map((t, i) => (
        <text key={i} transform={`translate(${t[1]},${t[2]}) rotate(${t[3]})`} textAnchor="middle" fontSize={t[4]} {...T}>{t[0]}</text>
      ))}
      {/* c */}
      {['M1', 'M2', 'M3', 'M4'].map((m, i) => (
        <text key={m} x={[239, 537, 825, 1131][i]} y={[477, 478, 479, 478][i]} textAnchor="middle" fontSize={19.5} {...T}>{m}</text>
      ))}
      {panels.map((p, i) => <Volcano key={i} p={p} />)}
      {rings.map((r, i) => (
        <ellipse key={i} cx={0} cy={0} rx={r[2]} ry={r[3]} transform={`translate(${r[0]},${r[1]}) rotate(${r[4]})`} fill="none" stroke={cRed} strokeWidth={1.4} />
      ))}
      <FoldLabel x={53} y={702} title="Midgut/soil" titleX={26} titleY={631} />
      <FoldLabel x={57} y={1047} title="Midgut/phylloplane" titleX={26} titleY={970} />
      <text x={638} y={1156} fontSize={18} {...T}>
        -log<tspan dy={5}>10</tspan><tspan dy={-5} dx={7} fontStyle="italic">P</tspan>-value
      </text>
      {legend.map((l) => (
        <g key={l[0]}>
          <circle cx={l[2]} cy={l[3]} r={4} fill={l[1]} />
          <text x={l[4]} y={l[5]} fontSize={18.3} {...T}>{l[0]}</text>
        </g>
      ))}
      {([['a', 11, 39], ['b', 804, 39], ['c', 11, 489]] as [string, number, number][]).map((l) => (
        <text key={l[0]} x={l[1]} y={l[2]} fontSize={26} fontWeight="bold" fontFamily={FONT} fill="#000">{l[0]}</text>
      ))}
    </svg>
  );
}
